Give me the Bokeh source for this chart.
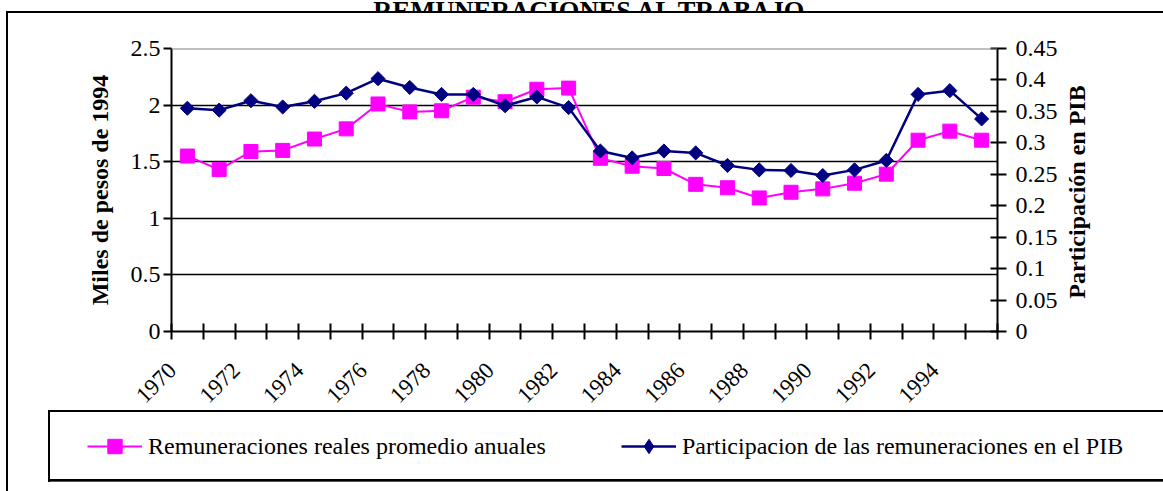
import math
from bokeh.plotting import figure
from bokeh.layouts import column, row
from bokeh.models import (Range1d, LinearAxis, FixedTicker, NumeralTickFormatter,
                          CustomJSTickFormatter, Legend, LegendItem, Label, Span)
from bokeh.embed import file_html
from bokeh.resources import INLINE

# ---------------- data ----------------
years = list(range(1970, 1996))
remuneraciones = [1.55, 1.43, 1.59, 1.60, 1.70, 1.79, 2.01, 1.94, 1.95, 2.07,
                  2.03, 2.14, 2.15, 1.53, 1.46, 1.44, 1.30, 1.27, 1.18, 1.23,
                  1.26, 1.31, 1.39, 1.69, 1.77, 1.69]
participacion = [0.355, 0.352, 0.367, 0.357, 0.366, 0.379, 0.402, 0.388, 0.377, 0.377,
                 0.359, 0.373, 0.356, 0.287, 0.276, 0.287, 0.284, 0.264, 0.257, 0.256,
                 0.248, 0.257, 0.272, 0.377, 0.383, 0.338]
left_ticks = [0, 0.5, 1, 1.5, 2, 2.5]
right_ticks = [0, 0.05, 0.1, 0.15, 0.2, 0.25, 0.3, 0.35, 0.4, 0.45]
label_years = list(range(1970, 1995, 2))

title_text = "REMUNERACIONES AL TRABAJO"
left_title = "Miles de pesos de 1994"
right_title = "Participación en PIB"
legend_1 = "Remuneraciones reales promedio anuales"
legend_2 = "Participacion de las remuneraciones en el PIB"

PINK = "#FF00FF"
NAVY = "#000080"
FONT = "Liberation Serif"

# ---------------- layout ----------------
W, H = 1163, 491
TOP_H = 12            # strip holding the (cropped) chart title
MAIN_H = 405          # chart with axes
LEG_H = H - TOP_H - MAIN_H
MAIN_W = 1064         # chart; the strip to its right holds the right-hand title
FL, FR = 171, 997     # plot area, page pixels
FT, FB = 48, 331
LABEL_SHIFT = 0.47    # rotated year labels end slightly left of the category centre


def seg(x, y, w, h, c="#000"):
    return f"linear-gradient({c},{c}) {x}px {y}px / {w}px {h}px no-repeat"


frame_bg = ", ".join([
    seg(6, 11, 2, 480),          # outer chart border, left
    seg(6, 11, 1157, 2),         # outer chart border, top
    seg(48, 410, 2, 72),         # legend box, left
    seg(48, 410, 1115, 2),       # legend box, top
    seg(48, 479, 1115, 2),       # legend box, bottom
    seg(50, 481, 1113, 1, "#555"),
    "white",
])


def no_align(fig):
    if "frame_align" in fig.properties():
        fig.frame_align = False
    return fig


def bare(fig):
    fig.outline_line_color = None
    fig.background_fill_color = None
    fig.border_fill_color = None
    fig.title.visible = False
    fig.xgrid.visible = False
    fig.ygrid.visible = False
    return no_align(fig)


def strip(w, h):
    return bare(figure(width=w, height=h, output_backend="svg", toolbar_location=None,
                       x_axis_type=None, y_axis_type=None, min_border=0,
                       x_range=Range1d(0, 1), y_range=Range1d(0, 1)))


# ---- title strip ----
tfig = strip(W, TOP_H)
tfig.add_layout(Label(x=590, y=TOP_H - 10, x_units="screen", y_units="screen",
                      text=title_text, text_align="center", text_baseline="alphabetic",
                      text_font=FONT, text_font_size="26.5px", text_font_style="bold",
                      text_color="black"))

# ---- right-hand title strip ----
rfig = strip(W - MAIN_W, MAIN_H)
rfig.add_layout(Label(x=1076 - MAIN_W, y=TOP_H + MAIN_H - 191.5,
                      x_units="screen", y_units="screen",
                      text=right_title, angle=math.pi / 2, text_align="center",
                      text_baseline="middle", text_font=FONT, text_font_size="24px",
                      text_font_style="bold", text_color="black"))

# ---- main chart ----
p = no_align(figure(width=MAIN_W, height=MAIN_H, output_backend="svg", toolbar_location=None,
                    x_range=Range1d(1969.5, 1995.5), y_range=Range1d(0, 2.5),
                    min_border_left=FL, min_border_right=MAIN_W - FR,
                    min_border_top=FT - TOP_H, min_border_bottom=TOP_H + MAIN_H - FB))
p.title.visible = False
p.outline_line_color = None
p.background_fill_color = "white"
p.border_fill_color = None

xa = p.xaxis[0]
xa.ticker = FixedTicker(ticks=[y - LABEL_SHIFT for y in label_years],
                        minor_ticks=[1969.5 + i for i in range(27)])
xa.formatter = CustomJSTickFormatter(code=f"return String(Math.round(tick + {LABEL_SHIFT}))")
xa.major_tick_in = 0
xa.major_tick_out = 0
xa.minor_tick_in = 8
xa.minor_tick_out = 8
xa.minor_tick_line_color = "black"
xa.minor_tick_line_width = 2
xa.axis_line_color = "black"
xa.axis_line_width = 2
xa.major_label_orientation = math.pi / 4
xa.major_label_text_font = FONT
xa.major_label_text_font_size = "23px"
xa.major_label_text_color = "black"
xa.major_label_standoff = 27

ya = p.yaxis[0]
ya.ticker = FixedTicker(ticks=left_ticks)
ya.formatter = NumeralTickFormatter(format="0.[0]")
ya.major_tick_in = 0
ya.major_tick_out = 8
ya.major_tick_line_width = 2
ya.major_tick_line_color = "black"
ya.minor_tick_line_color = None
ya.axis_line_color = "black"
ya.axis_line_width = 2
ya.major_label_text_font = FONT
ya.major_label_text_font_size = "24px"
ya.major_label_text_color = "black"
ya.major_label_standoff = 3
ya.axis_label = left_title
ya.axis_label_text_font = FONT
ya.axis_label_text_font_size = "24px"
ya.axis_label_text_font_style = "bold"
ya.axis_label_text_color = "black"
ya.axis_label_standoff = 15

p.extra_y_ranges = {"pib": Range1d(0, 0.45)}
ra = LinearAxis(y_range_name="pib", ticker=FixedTicker(ticks=right_ticks),
                formatter=NumeralTickFormatter(format="0.[00]"))
ra.major_tick_in = 7
ra.major_tick_out = 9
ra.major_tick_line_width = 2
ra.major_tick_line_color = "black"
ra.minor_tick_line_color = None
ra.axis_line_color = "black"
ra.axis_line_width = 2
ra.major_label_text_font = FONT
ra.major_label_text_font_size = "24px"
ra.major_label_text_color = "black"
ra.major_label_standoff = 9
p.add_layout(ra, "right")

p.xgrid.visible = False
p.ygrid.grid_line_color = "black"
p.ygrid.grid_line_width = 1.5
p.add_layout(Span(location=2.5, dimension="width", line_color="#808080", line_width=2))


def draw_series(fig, navy_marker="square", navy_angle=math.pi / 4, navy_size=10):
    a = fig.line(years, remuneraciones, line_color=PINK, line_width=2)
    b = fig.scatter(years, remuneraciones, marker="square", size=14,
                    fill_color=PINK, line_color=PINK)
    c = fig.line(years, participacion, y_range_name="pib", line_color=NAVY, line_width=2.5)
    d = fig.scatter(years, participacion, y_range_name="pib", marker=navy_marker,
                    angle=navy_angle, size=navy_size, fill_color=NAVY, line_color=NAVY)
    return a, b, c, d


draw_series(p)

# ---- legend strip (same series; its ranges keep the marks out of view) ----
lfig = bare(figure(width=W, height=LEG_H, output_backend="svg", toolbar_location=None,
                   x_axis_type=None, y_axis_type=None, min_border=0,
                   x_range=Range1d(3000, 3001), y_range=Range1d(50, 51)))
lfig.extra_y_ranges = {"pib": Range1d(50, 51)}
pl, ps, nl, ns = draw_series(lfig, navy_marker="diamond", navy_angle=0, navy_size=14)

ITEM_CY = 446 - (TOP_H + MAIN_H)   # legend row centre inside the strip
GLYPH_H, PAD = 36, 7
legend = Legend(items=[LegendItem(label=legend_1, renderers=[pl, ps]),
                       LegendItem(label=legend_2, renderers=[nl, ns])],
                orientation="horizontal",
                location=(94 - PAD, LEG_H - (ITEM_CY + GLYPH_H // 2 + PAD) + 7),
                margin=0, padding=PAD, spacing=33, glyph_width=55, glyph_height=GLYPH_H,
                label_standoff=6, label_width=440,
                label_text_font=FONT, label_text_font_size="24px",
                label_text_color="black",
                background_fill_alpha=0, border_line_color=None)
lfig.add_layout(legend)

layout = column(tfig, row(p, rfig, spacing=0), lfig, spacing=0,
                styles={"background": frame_bg})

open("out.html", "w").write(file_html(layout, INLINE))
